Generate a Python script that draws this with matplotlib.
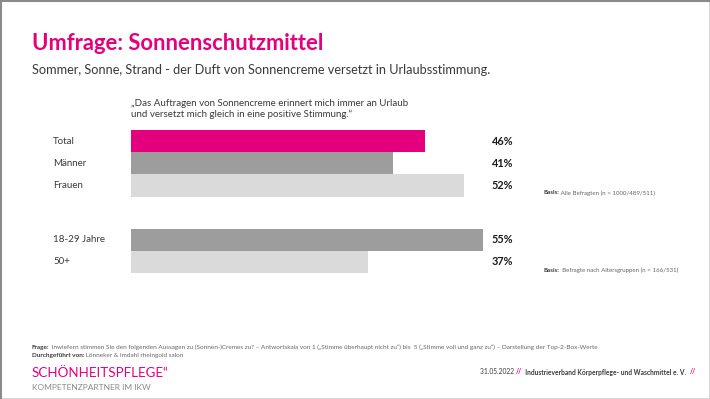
import matplotlib
matplotlib.use("Agg")
import matplotlib.pyplot as plt
from matplotlib.patches import Rectangle

# ---- data ----
categories = ["Total", "Männer", "Frauen", "18-29 Jahre", "50+"]
values = [46, 41, 52, 55, 37]
groups = [0, 0, 0, 1, 1]
value_labels = ["46%", "41%", "52%", "55%", "37%"]

title = "Umfrage: Sonnenschutzmittel"
subtitle = "Sommer, Sonne, Strand - der Duft von Sonnencreme versetzt in Urlaubsstimmung."
quote = "„Das Auftragen von Sonnencreme erinnert mich immer an Urlaub\nund versetzt mich gleich in eine positive Stimmung.“"
basis1 = ("Basis:", " Alle Befragten (n = 1000/489/511)")
basis2 = ("Basis:", "  Befragte nach Altersgruppen (n = 166/531)")
frage = ("Frage:", " Inwiefern stimmen Sie den folgenden Aussagen zu (Sonnen-)Cremes zu? – Antwortskala von 1 („Stimme überhaupt nicht zu“) bis  5 („Stimme voll und ganz zu“) – Darstellung der Top-2-Box-Werte")
durch = ("Durchgeführt von:", " Lönneker & Imdahl rheingold salon")

MAGENTA = "#E4007C"
DARK = "#9D9D9D"
LIGHT = "#DADADA"
TXT = "#3A3A3A"
colors = [MAGENTA, DARK, LIGHT, DARK, LIGHT]

W, H = 710, 399
fig = plt.figure(figsize=(W / 100, H / 100), dpi=100)
plt.rcParams['font.family'] = ['Lato', 'DejaVu Sans']

def fx(x): return x / W
def fy(y): return 1 - y / H

# border
fig.patches.append(Rectangle((0, 0), 1, 1, transform=fig.transFigure, fill=False,
                             edgecolor="#d0d0d0", linewidth=2.0, zorder=10))
fig.lines.append(plt.Line2D([0, 0, 1], [0, 1, 1], transform=fig.transFigure,
                            color="#8a8a8a", linewidth=2.2, zorder=11))

# title / subtitle
fig.text(fx(32), fy(44), title, color=MAGENTA, fontsize=15.8, fontweight="bold", va="center", ha="left")
fig.text(fx(32), fy(70), subtitle, color=TXT, fontsize=9.2, va="center", ha="left")
fig.text(fx(131), fy(109), quote, color=TXT, fontsize=7.0, va="center", ha="left", linespacing=1.1)

# bar axes: x=0 at 131 px, 6.4 px per percent
left_px, top_px, bottom_px = 131, 130, 273
xmax = 60
ax = fig.add_axes([fx(left_px), fy(bottom_px), xmax * 6.4 / W, (bottom_px - top_px) / H])
gap = 1.45
pos = [i + g * gap for i, g in enumerate(groups)]
ax.barh(pos, values, height=1.0, color=colors, edgecolor="none")
ax.set_xlim(0, xmax)
ax.set_ylim(pos[-1] + 0.5, pos[0] - 0.5)
ax.axis("off")

renderer = fig.canvas.get_renderer()
for p, cat, lab in zip(pos, categories, value_labels):
    y_disp = ax.transData.transform((0, p))[1]
    yf = fig.transFigure.inverted().transform((0, y_disp))[1]
    fig.text(fx(53), yf, cat, color=TXT, fontsize=7, va="center", ha="left")
    fig.text(fx(492), yf, lab, color="#1a1a1a", fontsize=7.8, fontweight="bold", va="center", ha="left")

def two_part(x, y, parts, size, color1, color2, w1="bold", w2="normal"):
    t = fig.text(fx(x), fy(y), parts[0], fontsize=size, fontweight=w1, color=color1, va="center", ha="left")
    bb = t.get_window_extent(renderer=renderer)
    fig.text(bb.x1 / fig.bbox.width, fy(y), parts[1], fontsize=size, fontweight=w2, color=color2, va="center", ha="left")

two_part(543, 193, basis1, 4.4, TXT, "#666666")
two_part(543, 270, basis2, 4.4, TXT, "#666666")
two_part(32, 347, frage, 4.55, TXT, "#666666")
two_part(32, 356, durch, 4.55, TXT, "#666666")

# logo
fig.text(fx(32), fy(373), "SCHÖNHEITSPFLEGE“", color=MAGENTA, fontsize=9.6, fontweight="normal", va="center", ha="left")
fig.text(fx(32), fy(387), "KOMPETENZPARTNER IM IKW", color="#8a8a8a", fontsize=6.0, va="center", ha="left")

# right footer
fs = 4.75
t1 = fig.text(fx(480), fy(372), "31.05.2022 ", fontsize=fs, color=TXT, va="center", ha="left")
bb = t1.get_window_extent(renderer=renderer)
t2 = fig.text(bb.x1 / W, fy(372), "//", fontsize=fs, color=MAGENTA, fontweight="bold", va="center", ha="left")
bb = t2.get_window_extent(renderer=renderer)
t3 = fig.text(bb.x1 / W, fy(372), "  Industrieverband Körperpflege- und Waschmittel e. V. ", fontsize=fs, color=TXT, fontweight="bold", va="center", ha="left")
bb = t3.get_window_extent(renderer=renderer)
fig.text(bb.x1 / W + 0.003, fy(372), "//", fontsize=fs, color=MAGENTA, fontweight="bold", va="center", ha="left")

fig.savefig("out.png", dpi=100, facecolor="white")
